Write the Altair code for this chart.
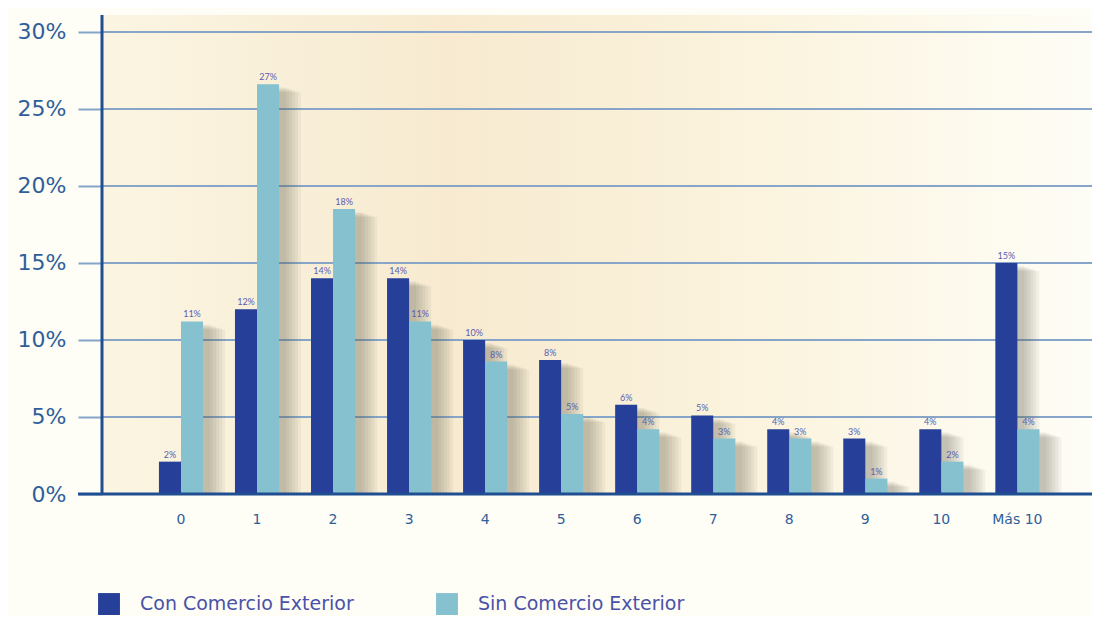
import altair as alt
import pandas as pd

categories = ["0", "1", "2", "3", "4", "5", "6", "7", "8", "9", "10", "Más 10"]
series_names = ["Con Comercio Exterior", "Sin Comercio Exterior"]
con_values = [2.1, 12.0, 14.0, 14.0, 10.0, 8.7, 5.8, 5.1, 4.2, 3.6, 4.2, 15.0]
sin_values = [11.2, 26.6, 18.5, 11.2, 8.6, 5.2, 4.2, 3.6, 3.6, 1.0, 2.1, 4.2]
con_labels = ["2%", "12%", "14%", "14%", "10%", "8%", "6%", "5%", "4%", "3%", "4%", "15%"]
sin_labels = ["11%", "27%", "18%", "11%", "8%", "5%", "4%", "3%", "3%", "1%", "2%", "4%"]
y_ticks = [0, 5, 10, 15, 20, 25, 30]

rows = []
for i, c in enumerate(categories):
    rows.append({"cat": c, "serie": series_names[0], "valor": con_values[i], "etiqueta": con_labels[i]})
    rows.append({"cat": c, "serie": series_names[1], "valor": sin_values[i], "etiqueta": sin_labels[i]})
df = pd.DataFrame(rows)

W, H = 990, 479
BAR_W = 22
AXIS_BLUE = "#1f4f91"
GRID_BLUE = "#86a5c8"
TEXT_BLUE = "#2e5f9a"
COLORS = ["#263f98", "#86c1cf"]
FONT = "DejaVu Sans"

x_scale = alt.Scale(domain=categories, paddingInner=0.42, paddingOuter=0.72, align=0.52)
y_scale = alt.Scale(domain=[0, 31.1], nice=False)

x_axis = alt.Axis(title=None, labelAngle=0, ticks=False, domain=False,
                  labelFontSize=14, labelColor=TEXT_BLUE, labelPadding=18,
                  labelFont=FONT, grid=False)
y_axis = alt.Axis(title=None, values=y_ticks, labelExpr="datum.value + '%'",
                  labelFontSize=22, labelColor=TEXT_BLUE, labelFont=FONT,
                  labelPadding=12, tickSize=24, tickColor=GRID_BLUE, tickWidth=2,
                  domain=False, grid=False)

x_enc = alt.X("cat:N", scale=x_scale, sort=categories, axis=x_axis)
xoff = alt.XOffset("serie:N", sort=series_names, scale=alt.Scale(paddingInner=0, paddingOuter=0))
y_enc = alt.Y("valor:Q", scale=y_scale, axis=y_axis)

base = alt.Chart(df)

bg = base.mark_rect(
    fill=alt.Gradient(gradient="linear", x1=0, x2=1, y1=0, y2=0,
                      stops=[alt.GradientStop(offset=0, color="#fbf5e2"),
                             alt.GradientStop(offset=0.35, color="#f7ead0"),
                             alt.GradientStop(offset=0.65, color="#fbf3dd"),
                             alt.GradientStop(offset=1, color="#fefdf6")])
).encode(x=alt.value(0), x2=alt.value(W), y=alt.value(0), y2=alt.value(H))

grid = alt.Chart(pd.DataFrame({"t": y_ticks[1:]})).mark_rule(
    color=GRID_BLUE, strokeWidth=2
).encode(y=alt.Y("t:Q", scale=y_scale, axis=y_axis), x=alt.value(0), x2=alt.value(W))

shadow_layers = []
for s, center in zip(series_names, [-BAR_W / 2, BAR_W / 2]):
    for dx, dy in [(7, 3), (10, 4), (13, 5), (16, 6), (19, 7), (22, 8)]:
        shadow_layers.append(
            base.transform_filter(alt.datum.serie == s).mark_bar(
                color="#5e574e", opacity=0.065, width=BAR_W, xOffset=center + dx, yOffset=dy, clip=True
            ).encode(x=x_enc, y=y_enc)
        )

bars = base.mark_bar().encode(
    x=x_enc, xOffset=xoff,
    y=y_enc,
    color=alt.Color("serie:N", sort=series_names,
                    scale=alt.Scale(domain=series_names, range=COLORS),
                    legend=alt.Legend(title=None, orient="none", legendX=-4, legendY=578,
                                      direction="horizontal", symbolType="square",
                                      symbolSize=480, symbolStrokeWidth=0, labelLimit=0,
                                      labelFontSize=19, labelColor="#4a52a8", labelFont=FONT,
                                      labelOffset=20, columnPadding=82, symbolOpacity=1)),
)

labels = base.mark_text(dy=-7, fontSize=9, color="#5a5cb4", font="Lato").encode(
    x=x_enc, xOffset=xoff, y=y_enc, text="etiqueta:N")

baseline = alt.Chart(pd.DataFrame({"z": [0]})).mark_rule(color=AXIS_BLUE, strokeWidth=3).encode(
    x=alt.value(-24), x2=alt.value(W), y=alt.Y("z:Q", scale=y_scale, axis=y_axis))

y_line = alt.Chart(pd.DataFrame({"z": [0]})).mark_rule(color=AXIS_BLUE, strokeWidth=3).encode(
    x=alt.value(0), y=alt.value(0), y2=alt.value(H))

chart = alt.layer(bg, grid, *shadow_layers, bars, labels, baseline, y_line).properties(
    width=W, height=H,
    autosize=alt.AutoSizeParams(type="none"),
    padding={"left": 94, "top": 7, "right": 0, "bottom": 122},
    background="#fefdf6",
).configure_view(stroke=None)

chart.save("out.html", embed_options={"renderer": "svg", "actions": False})
